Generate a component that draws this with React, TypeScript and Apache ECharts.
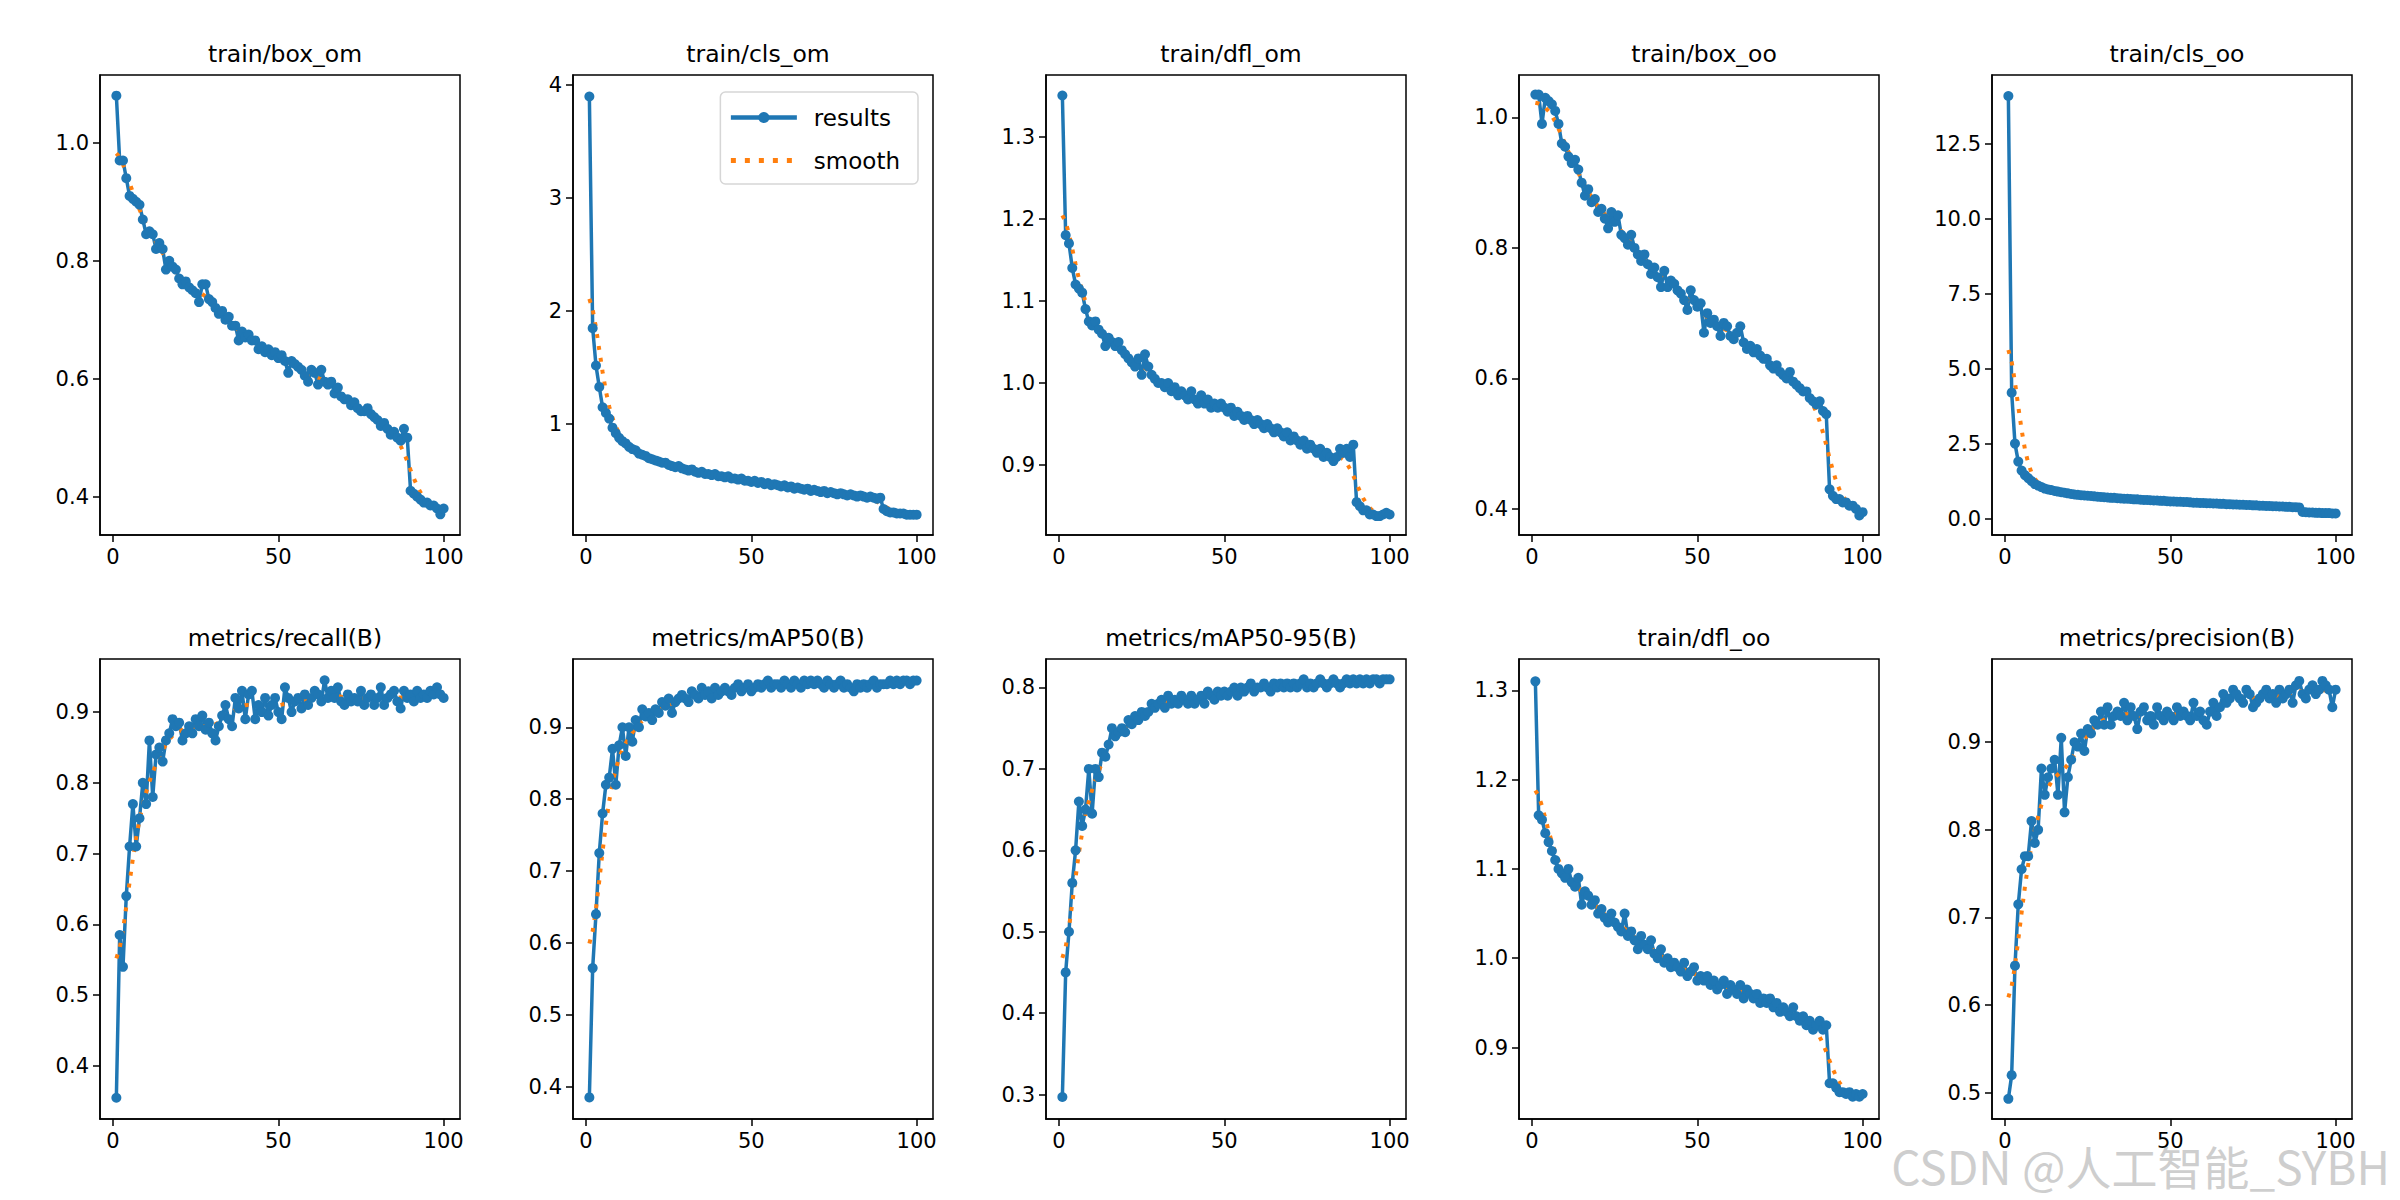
import React, { useEffect, useRef } from 'react'
import * as echarts from 'echarts'

/*==================================================================
    DATA
==================================================================*/
const epochs = Array.from({ length: 100 }, (_, i) => i + 1)

const boxOm = [
  1.08, 0.97, 0.97, 0.94, 0.91, 0.905, 0.9, 0.895, 0.87, 0.845,
  0.85, 0.845, 0.82, 0.83, 0.82, 0.785, 0.8, 0.79, 0.785, 0.77,
  0.76, 0.765, 0.755, 0.75, 0.745, 0.73, 0.76, 0.76, 0.735, 0.73,
  0.72, 0.71, 0.715, 0.7, 0.705, 0.69, 0.69, 0.665, 0.68, 0.67,
  0.675, 0.665, 0.665, 0.65, 0.655, 0.645, 0.65, 0.64, 0.645, 0.635,
  0.64, 0.63, 0.61, 0.63, 0.625, 0.62, 0.615, 0.605, 0.595, 0.615,
  0.61, 0.59, 0.615, 0.595, 0.59, 0.595, 0.575, 0.585, 0.57, 0.565,
  0.565, 0.555, 0.56, 0.55, 0.545, 0.545, 0.55, 0.54, 0.535, 0.53,
  0.52, 0.525, 0.515, 0.505, 0.51, 0.5, 0.495, 0.515, 0.5, 0.41,
  0.405, 0.4, 0.395, 0.39, 0.39, 0.385, 0.385, 0.38, 0.37, 0.38,
]
const clsOm = [
  3.9, 1.85, 1.52, 1.33, 1.15, 1.1, 1.05, 0.97, 0.92, 0.88,
  0.85, 0.83, 0.8, 0.78, 0.77, 0.74, 0.73, 0.72, 0.7, 0.69,
  0.68, 0.67, 0.66, 0.66, 0.64, 0.63, 0.62, 0.63, 0.61, 0.6,
  0.59, 0.6, 0.58, 0.57, 0.58, 0.56, 0.56, 0.55, 0.56, 0.54,
  0.54, 0.53, 0.54, 0.52, 0.52, 0.51, 0.52, 0.5, 0.5, 0.49,
  0.5, 0.48, 0.49, 0.47, 0.48, 0.46, 0.47, 0.46, 0.45, 0.46,
  0.44, 0.45, 0.43, 0.44, 0.43, 0.42, 0.43, 0.41, 0.42, 0.41,
  0.4, 0.41, 0.39, 0.4, 0.39, 0.38, 0.39, 0.38, 0.37, 0.38,
  0.37, 0.36, 0.37, 0.36, 0.35, 0.36, 0.35, 0.34, 0.35, 0.25,
  0.23, 0.22, 0.22, 0.21, 0.21, 0.21, 0.2, 0.2, 0.2, 0.2,
]
const dflOm = [
  1.35, 1.18, 1.17, 1.14, 1.12, 1.115, 1.11, 1.09, 1.075, 1.07,
  1.075, 1.065, 1.06, 1.045, 1.055, 1.05, 1.045, 1.05, 1.04, 1.035,
  1.03, 1.025, 1.02, 1.03, 1.01, 1.035, 1.02, 1.01, 1.005, 1.0,
  1.0, 0.995, 1.0, 0.99, 0.995, 0.985, 0.99, 0.985, 0.98, 0.99,
  0.98, 0.975, 0.985, 0.975, 0.98, 0.97, 0.975, 0.97, 0.975, 0.97,
  0.965, 0.97, 0.96, 0.965, 0.96, 0.955, 0.96, 0.955, 0.95, 0.955,
  0.95, 0.945, 0.95, 0.945, 0.94, 0.945, 0.94, 0.935, 0.94, 0.93,
  0.935, 0.93, 0.925, 0.93, 0.92, 0.925, 0.92, 0.915, 0.92, 0.91,
  0.915, 0.91, 0.905, 0.91, 0.92, 0.915, 0.92, 0.91, 0.925, 0.855,
  0.85, 0.845, 0.845, 0.84, 0.84, 0.838, 0.838, 0.84, 0.842, 0.84,
]
const boxOo = [
  1.035, 1.035, 0.99, 1.03, 1.025, 1.02, 1.01, 0.99, 0.96, 0.955,
  0.94, 0.93, 0.935, 0.92, 0.9, 0.88, 0.89, 0.87, 0.875, 0.855,
  0.86, 0.845, 0.83, 0.855, 0.84, 0.85, 0.82, 0.815, 0.805, 0.82,
  0.8, 0.79, 0.78, 0.79, 0.775, 0.76, 0.77, 0.755, 0.74, 0.765,
  0.74, 0.75, 0.745, 0.735, 0.73, 0.72, 0.705, 0.735, 0.72, 0.71,
  0.715, 0.67, 0.7, 0.685, 0.69, 0.68, 0.665, 0.685, 0.68, 0.665,
  0.66, 0.67, 0.68, 0.655, 0.645, 0.65, 0.64, 0.645, 0.635, 0.63,
  0.63, 0.62, 0.615, 0.62, 0.61, 0.605, 0.6, 0.61, 0.595, 0.59,
  0.585, 0.58, 0.58, 0.57, 0.565, 0.56, 0.565, 0.55, 0.545, 0.43,
  0.42, 0.415, 0.415, 0.41, 0.41, 0.405, 0.405, 0.4, 0.39, 0.395,
]
const clsOo = [
  14.1, 4.2, 2.5, 1.9, 1.6, 1.45, 1.35, 1.25, 1.15, 1.1,
  1.05, 1.0, 0.97, 0.95, 0.92, 0.9, 0.88, 0.86, 0.84, 0.82,
  0.8, 0.79, 0.78, 0.77, 0.76, 0.75, 0.74, 0.73, 0.72, 0.71,
  0.7, 0.69, 0.69, 0.68, 0.67, 0.66, 0.66, 0.65, 0.64, 0.64,
  0.63, 0.62, 0.62, 0.61, 0.6, 0.6, 0.59, 0.59, 0.58, 0.57,
  0.57, 0.56, 0.56, 0.55, 0.55, 0.54, 0.53, 0.53, 0.52, 0.52,
  0.51, 0.51, 0.5, 0.5, 0.49, 0.49, 0.48, 0.48, 0.47, 0.47,
  0.46, 0.46, 0.45, 0.45, 0.44, 0.44, 0.43, 0.43, 0.42, 0.42,
  0.41, 0.41, 0.4, 0.4, 0.39, 0.39, 0.38, 0.38, 0.37, 0.22,
  0.21, 0.2, 0.2, 0.19, 0.19, 0.18, 0.18, 0.18, 0.17, 0.17,
]
const recall = [
  0.355, 0.585, 0.54, 0.64, 0.71, 0.77, 0.71, 0.75, 0.8, 0.77,
  0.86, 0.78, 0.84, 0.85, 0.83, 0.86, 0.87, 0.89, 0.88, 0.885,
  0.86, 0.87, 0.88, 0.87, 0.89, 0.88, 0.895, 0.875, 0.885, 0.87,
  0.86, 0.88, 0.895, 0.91, 0.89, 0.88, 0.92, 0.905, 0.93, 0.89,
  0.925, 0.93, 0.89, 0.91, 0.9, 0.92, 0.895, 0.91, 0.92, 0.9,
  0.89, 0.935, 0.92, 0.9, 0.915, 0.92, 0.905, 0.925, 0.91, 0.92,
  0.93, 0.925, 0.915, 0.945, 0.92, 0.93, 0.92, 0.935, 0.915, 0.91,
  0.925, 0.915, 0.92, 0.915, 0.93, 0.91, 0.92, 0.925, 0.91, 0.92,
  0.935, 0.91, 0.92, 0.925, 0.93, 0.915, 0.905, 0.93, 0.92, 0.925,
  0.915, 0.93, 0.92, 0.925, 0.92, 0.93, 0.925, 0.935, 0.925, 0.92,
]
const map50 = [
  0.385, 0.565, 0.64, 0.725, 0.78, 0.82, 0.83, 0.87, 0.82, 0.875,
  0.9, 0.86, 0.9, 0.88, 0.91, 0.9, 0.925, 0.915, 0.92, 0.91,
  0.925, 0.92, 0.935, 0.93, 0.94, 0.92, 0.935, 0.94, 0.945, 0.94,
  0.935, 0.95, 0.945, 0.94, 0.955, 0.945, 0.95, 0.94, 0.955, 0.945,
  0.95, 0.955, 0.95, 0.945, 0.955, 0.96, 0.95, 0.955, 0.96, 0.95,
  0.955, 0.96, 0.955, 0.96, 0.965, 0.955, 0.96, 0.96, 0.955, 0.965,
  0.96, 0.955, 0.965, 0.96, 0.955, 0.965, 0.96, 0.965, 0.96, 0.965,
  0.96, 0.955, 0.965, 0.96, 0.955, 0.96, 0.965, 0.955, 0.96, 0.955,
  0.95, 0.96, 0.955, 0.96, 0.955, 0.96, 0.965, 0.955, 0.96, 0.96,
  0.96, 0.965, 0.96, 0.965, 0.96, 0.965, 0.965, 0.96, 0.965, 0.965,
]
const map5095 = [
  0.297, 0.45, 0.5, 0.56, 0.6, 0.66, 0.63, 0.65, 0.7, 0.645,
  0.7, 0.69, 0.72, 0.715, 0.73, 0.75, 0.74, 0.745, 0.75, 0.745,
  0.76, 0.755, 0.765, 0.76, 0.77, 0.765, 0.77, 0.78, 0.775, 0.78,
  0.785, 0.775, 0.79, 0.78, 0.785, 0.78, 0.79, 0.785, 0.78, 0.79,
  0.78, 0.785, 0.79, 0.78, 0.795, 0.79, 0.785, 0.795, 0.79, 0.795,
  0.79, 0.795, 0.8, 0.79, 0.8, 0.795, 0.8, 0.805, 0.795, 0.8,
  0.8, 0.805, 0.8, 0.795, 0.805, 0.8, 0.805, 0.8, 0.805, 0.8,
  0.805, 0.8, 0.805, 0.81, 0.8, 0.805, 0.8, 0.805, 0.81, 0.805,
  0.8, 0.805, 0.81, 0.805, 0.8, 0.805, 0.81, 0.805, 0.81, 0.805,
  0.81, 0.805, 0.81, 0.805, 0.81, 0.81, 0.805, 0.81, 0.81, 0.81,
]
const dflOo = [
  1.31, 1.16, 1.155, 1.14, 1.13, 1.12, 1.11, 1.1, 1.095, 1.09,
  1.1, 1.085, 1.08, 1.09, 1.06, 1.075, 1.07, 1.06, 1.065, 1.05,
  1.055, 1.045, 1.04, 1.05, 1.04, 1.035, 1.03, 1.05, 1.025, 1.03,
  1.02, 1.01, 1.025, 1.015, 1.01, 1.02, 1.005, 1.0, 1.01, 0.995,
  1.0, 0.99, 0.995, 0.99, 0.985, 0.995, 0.98, 0.985, 0.99, 0.975,
  0.98, 0.975, 0.98, 0.97, 0.975, 0.965, 0.97, 0.975, 0.96, 0.97,
  0.965, 0.96, 0.97, 0.955, 0.965, 0.96, 0.955, 0.96, 0.95, 0.955,
  0.95, 0.955, 0.945, 0.95, 0.94, 0.945, 0.94, 0.935, 0.945, 0.935,
  0.93, 0.935, 0.925, 0.93, 0.92, 0.925, 0.93, 0.92, 0.925, 0.86,
  0.86, 0.855, 0.85, 0.85, 0.848, 0.85, 0.845, 0.848, 0.845, 0.848,
]
const precision = [
  0.493, 0.52, 0.645, 0.715, 0.755, 0.77, 0.77, 0.81, 0.785, 0.8,
  0.87, 0.84, 0.86, 0.87, 0.88, 0.84, 0.905, 0.82, 0.86, 0.88,
  0.9, 0.895, 0.91, 0.89, 0.915, 0.91, 0.925, 0.92, 0.935, 0.92,
  0.94, 0.92, 0.93, 0.935, 0.93, 0.945, 0.925, 0.94, 0.93, 0.915,
  0.935, 0.94, 0.925, 0.93, 0.92, 0.94, 0.93, 0.925, 0.935, 0.93,
  0.925, 0.94, 0.93, 0.935, 0.93, 0.925, 0.945, 0.93, 0.935, 0.925,
  0.92, 0.935, 0.945, 0.93, 0.94, 0.955, 0.945, 0.95, 0.96, 0.955,
  0.95, 0.945, 0.96, 0.955, 0.94, 0.945, 0.95, 0.955, 0.96, 0.95,
  0.955, 0.945, 0.96, 0.95, 0.955, 0.96, 0.945, 0.965, 0.97, 0.955,
  0.95, 0.96, 0.965, 0.955, 0.96, 0.97, 0.965, 0.96, 0.94, 0.96,
]

/*==================================================================
    PANELS
==================================================================*/
type Panel = { title: string; data: number[]; min: number; max: number; ticks: number[]; dec: number }

const panels: Panel[] = [
  { title: 'train/box_om', data: boxOm, min: 0.335, max: 1.115, ticks: [0.4, 0.6, 0.8, 1.0], dec: 1 },
  { title: 'train/cls_om', data: clsOm, min: 0.02, max: 4.09, ticks: [1, 2, 3, 4], dec: 0 },
  { title: 'train/dfl_om', data: dflOm, min: 0.815, max: 1.375, ticks: [0.9, 1.0, 1.1, 1.2, 1.3], dec: 1 },
  { title: 'train/box_oo', data: boxOo, min: 0.36, max: 1.065, ticks: [0.4, 0.6, 0.8, 1.0], dec: 1 },
  { title: 'train/cls_oo', data: clsOo, min: -0.55, max: 14.8, ticks: [0, 2.5, 5, 7.5, 10, 12.5], dec: 1 },
  { title: 'metrics/recall(B)', data: recall, min: 0.325, max: 0.975, ticks: [0.4, 0.5, 0.6, 0.7, 0.8, 0.9], dec: 1 },
  { title: 'metrics/mAP50(B)', data: map50, min: 0.355, max: 0.995, ticks: [0.4, 0.5, 0.6, 0.7, 0.8, 0.9], dec: 1 },
  { title: 'metrics/mAP50-95(B)', data: map5095, min: 0.27, max: 0.835, ticks: [0.3, 0.4, 0.5, 0.6, 0.7, 0.8], dec: 1 },
  { title: 'train/dfl_oo', data: dflOo, min: 0.82, max: 1.335, ticks: [0.9, 1.0, 1.1, 1.2, 1.3], dec: 1 },
  { title: 'metrics/precision(B)', data: precision, min: 0.47, max: 0.995, ticks: [0.5, 0.6, 0.7, 0.8, 0.9], dec: 1 },
]

// gaussian smoothing (sigma 3, reflected edges), as in the training plots
function smooth(y: number[], sigma = 3) {
  const n = y.length
  const r = Math.round(4 * sigma)
  const w: number[] = []
  for (let k = -r; k <= r; k++) w.push(Math.exp(-(k * k) / (2 * sigma * sigma)))
  const s = w.reduce((a, b) => a + b, 0)
  return y.map((_, i) => {
    let acc = 0
    for (let k = -r; k <= r; k++) {
      let j = i + k
      if (j < 0) j = -j - 1
      if (j >= n) j = 2 * n - j - 1
      acc += y[j] * w[k + r]
    }
    return acc / s
  })
}

const LEFTS = [100, 573, 1046, 1519, 1992]
const TOPS = [75, 659]
const W = 360
const H = 460
const FONT = 'DejaVu Sans'

/*==================================================================
    APP
==================================================================*/
export default function App() {
  const ref = useRef<HTMLDivElement>(null)

  useEffect(() => {
    if (!ref.current) return
    const chart = echarts.init(ref.current, undefined, { renderer: 'svg' })

    const grids: any[] = []
    const xAxes: any[] = []
    const yAxes: any[] = []
    const titles: any[] = []
    const series: any[] = []

    panels.forEach((p, i) => {
      const left = LEFTS[i % 5]
      const top = TOPS[Math.floor(i / 5)]
      grids.push({ left, top, width: W, height: H, show: true, borderColor: '#000', borderWidth: 1.5, backgroundColor: '#fff' })
      titles.push({ text: p.title, left: left + W / 2, top: top - 38, textAlign: 'center', textStyle: { fontFamily: FONT, fontSize: 23.5, fontWeight: 'normal', color: '#000' } })
      xAxes.push({
        type: 'value', gridIndex: i, min: -3.95, max: 104.95, splitLine: { show: false },
        axisLine: { show: true, onZero: false, lineStyle: { color: '#000', width: 1.5 } },
        axisTick: { show: true, length: 7, customValues: [0, 50, 100], lineStyle: { color: '#000', width: 1.5 } },
        axisLabel: { customValues: [0, 50, 100], color: '#000', fontFamily: FONT, fontSize: 21, margin: 11 },
      })
      yAxes.push({
        type: 'value', gridIndex: i, min: p.min, max: p.max, splitLine: { show: false },
        axisLine: { show: true, onZero: false, lineStyle: { color: '#000', width: 1.5 } },
        axisTick: { show: true, length: 7, customValues: p.ticks, lineStyle: { color: '#000', width: 1.5 } },
        axisLabel: { customValues: p.ticks, color: '#000', fontFamily: FONT, fontSize: 21, margin: 11, formatter: (v: number) => v.toFixed(p.dec) },
      })
      series.push({
        name: 'results', type: 'line', xAxisIndex: i, yAxisIndex: i,
        data: epochs.map((e, k) => [e, p.data[k]]),
        symbol: 'circle', symbolSize: 10, lineStyle: { color: '#1f77b4', width: 3.5 }, itemStyle: { color: '#1f77b4' },
      })
      const sm = smooth(p.data)
      series.push({
        name: 'smooth', type: 'line', xAxisIndex: i, yAxisIndex: i,
        data: epochs.map((e, k) => [e, sm[k]]),
        symbol: 'none', lineStyle: { color: '#ff7f0e', width: 4, type: [4, 8] }, itemStyle: { color: '#ff7f0e' }, z: 3,
      })
    })

    chart.setOption({
      animation: false,
      backgroundColor: '#fff',
      title: titles,
      grid: grids,
      xAxis: xAxes,
      yAxis: yAxes,
      series,
      legend: {
        data: [
          { name: 'results', lineStyle: { width: 4.5 }, itemStyle: { borderWidth: 0 } },
          { name: 'smooth', lineStyle: { width: 5, type: [5, 9] }, itemStyle: { opacity: 0 } },
        ],
        orient: 'vertical', right: 2400 - 918, top: 92,
        backgroundColor: '#fff', borderColor: '#d6d6d6', borderWidth: 1.5, borderRadius: 5, padding: [14, 18, 12, 8],
        itemGap: 20, itemWidth: 66, itemHeight: 14,
        textStyle: { fontFamily: FONT, fontSize: 23, color: '#000', padding: [0, 0, 0, 12] },
      },
      graphic: [{
        type: 'text', right: 10, bottom: 12,
        style: { text: 'CSDN @人工智能_SYBH', fontSize: 46, fill: 'rgba(190,190,190,0.75)', fontFamily: 'Noto Sans CJK SC' },
      }],
    })
    return () => chart.dispose()
  }, [])

  return <div ref={ref} style={{ position: 'fixed', left: 0, top: 0, width: 2400, height: 1200 }} />
}
